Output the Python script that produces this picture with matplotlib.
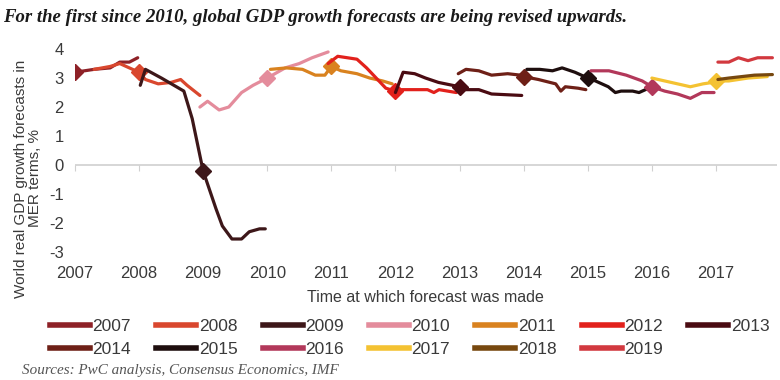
import matplotlib
matplotlib.use("Agg")
import matplotlib.pyplot as plt
from matplotlib.lines import Line2D
import numpy as np

# ---- data (forecast date in decimal years, forecast value %) ----
years = [2007, 2008, 2009, 2010, 2011, 2012, 2013, 2014, 2015, 2016, 2017, 2018, 2019]

x2007 = [2007.0, 2007.3, 2007.55, 2007.7, 2007.85, 2007.98]
y2007 = [3.2, 3.3, 3.35, 3.55, 3.55, 3.7]

x2008 = [2007.3, 2007.55, 2007.7, 2007.85, 2008.0, 2008.1, 2008.3, 2008.5, 2008.65, 2008.75, 2008.95]
y2008 = [3.3, 3.4, 3.5, 3.35, 3.2, 2.95, 2.8, 2.85, 2.95, 2.75, 2.4]

x2009 = [2008.02, 2008.1, 2008.35, 2008.7, 2008.83, 2009.0, 2009.2, 2009.3, 2009.45, 2009.6, 2009.72, 2009.88, 2009.97]
y2009 = [2.75, 3.3, 3.0, 2.55, 1.6, -0.2, -1.5, -2.1, -2.55, -2.55, -2.3, -2.2, -2.2]

x2010 = [2008.95, 2009.07, 2009.25, 2009.4, 2009.6, 2009.78, 2010.0, 2010.28, 2010.5, 2010.7, 2010.95]
y2010 = [2.0, 2.2, 1.9, 2.0, 2.5, 2.75, 3.0, 3.35, 3.5, 3.7, 3.9]

x2011 = [2010.05, 2010.3, 2010.55, 2010.75, 2010.9, 2011.0, 2011.15, 2011.4, 2011.6, 2011.8, 2011.95]
y2011 = [3.3, 3.35, 3.3, 3.1, 3.1, 3.4, 3.25, 3.15, 3.0, 2.9, 2.8]

x2012 = [2010.95, 2011.1, 2011.4, 2011.55, 2011.7, 2011.85, 2012.0, 2012.1, 2012.5, 2012.6, 2012.68, 2012.95]
y2012 = [3.5, 3.75, 3.65, 3.35, 3.0, 2.65, 2.55, 2.6, 2.6, 2.5, 2.6, 2.5]

x2013 = [2012.0, 2012.12, 2012.3, 2012.47, 2012.67, 2013.0, 2013.1, 2013.3, 2013.5, 2013.97]
y2013 = [2.5, 3.2, 3.15, 3.0, 2.85, 2.7, 2.6, 2.6, 2.45, 2.4]

x2014 = [2012.98, 2013.1, 2013.3, 2013.5, 2013.75, 2013.95, 2014.0, 2014.23, 2014.5, 2014.58, 2014.65, 2014.85, 2014.97]
y2014 = [3.15, 3.3, 3.25, 3.1, 3.15, 3.1, 3.05, 2.95, 2.8, 2.55, 2.7, 2.65, 2.6]

x2015 = [2014.05, 2014.25, 2014.45, 2014.6, 2014.8, 2015.0, 2015.12, 2015.32, 2015.43, 2015.52, 2015.7, 2015.8, 2015.9, 2016.0]
y2015 = [3.3, 3.3, 3.25, 3.35, 3.2, 3.0, 2.9, 2.7, 2.5, 2.55, 2.55, 2.5, 2.6, 2.7]

x2016 = [2015.05, 2015.33, 2015.6, 2015.85, 2016.0, 2016.2, 2016.4, 2016.6, 2016.78, 2016.97]
y2016 = [3.25, 3.25, 3.1, 2.9, 2.7, 2.55, 2.45, 2.3, 2.5, 2.5]

x2017 = [2016.0, 2016.2, 2016.4, 2016.6, 2016.8, 2016.95, 2017.0, 2017.2, 2017.5, 2017.8]
y2017 = [3.0, 2.9, 2.8, 2.7, 2.8, 2.85, 2.9, 2.9, 3.0, 3.05]

x2018 = [2017.03, 2017.2, 2017.4, 2017.6, 2017.88]
y2018 = [2.95, 3.0, 3.05, 3.1, 3.12]

x2019 = [2017.03, 2017.2, 2017.35, 2017.5, 2017.65, 2017.88]
y2019 = [3.55, 3.55, 3.7, 3.6, 3.7, 3.7]

xs = [x2007, x2008, x2009, x2010, x2011, x2012, x2013, x2014, x2015, x2016, x2017, x2018, x2019]
ys = [y2007, y2008, y2009, y2010, y2011, y2012, y2013, y2014, y2015, y2016, y2017, y2018, y2019]

colors = ["#8E2127", "#D9472E", "#3D1719", "#E48C9C", "#D9821F", "#E2211C", "#4A0B12",
          "#6E2017", "#1E0E0E", "#B2385A", "#F4C232", "#77480F", "#D2393F"]

xtick_years = list(range(2007, 2018))
yticks = [-3, -2, -1, 0, 1, 2, 3, 4]

# ---- figure ----
fig = plt.figure(figsize=(7.8, 3.8), dpi=100)
ax = fig.add_axes([0.096, 0.31, 0.9, 0.58])

sans = ["Liberation Sans", "DejaVu Sans"]
serif = ["Liberation Serif", "DejaVu Serif"]
txtc = "#3a3a3a"
ymin, ymax = -3.35, 4.25

for yr, xv, yv, c in zip(years, xs, ys, colors):
    xa = np.array(xv)
    idx = int(np.argmin(np.abs(xa - yr)))
    mk = [idx] if abs(xa[idx] - yr) < 0.06 else []
    ax.plot(xv, yv, color=c, lw=2.3, solid_joinstyle="round", solid_capstyle="round",
            marker="D", markevery=mk, markersize=8, label=str(yr))

ax.axhline(0, color="#d0d0d0", lw=1.2, zorder=0)
ax.set_xlim(2007, 2017.95)
ax.set_ylim(ymin, ymax)
ax.set_yticks(yticks)
ax.set_yticklabels([str(v) for v in yticks], family=sans, fontsize=12, color=txtc)
ax.set_xticks(xtick_years)
ax.set_xticklabels([str(v) for v in xtick_years], family=sans, fontsize=12, color=txtc)
ax.tick_params(axis="x", length=0, pad=3)
ax.tick_params(axis="y", length=0, pad=8)
for s in ax.spines.values():
    s.set_visible(False)

# tick marks on the zero line
sec = ax.secondary_xaxis((0 - ymin) / (ymax - ymin))
sec.xaxis.set_ticks_position("bottom")
sec.set_xticks(xtick_years, labels=[""] * len(xtick_years))
sec.tick_params(length=4, color="#d0d0d0", direction="out")
for s in sec.spines.values():
    s.set_visible(False)

ax.set_xlabel("Time at which forecast was made", family=sans, fontsize=11.5, color=txtc, labelpad=6)
ax.set_ylabel("World real GDP growth forecasts in\nMER terms, %", family=sans, fontsize=11,
              color=txtc, linespacing=1.0)
ax.yaxis.set_label_coords(-0.047, 0.38)

fig.text(0.004, 0.955, "For the first since 2010, global GDP growth forecasts are being revised upwards.",
         family=serif, style="italic", weight="bold", fontsize=13.5,
         color="#1a1a1a", va="center", ha="left")

fig.text(0.028, 0.026, "Sources: PwC analysis, Consensus Economics, IMF",
         family=serif, style="italic", fontsize=10.9,
         color="#555555", va="center", ha="left")

# legend filled row-wise: 2007..2013 on first row, 2014..2019 on second
labels = [str(y) for y in years]
order = []
for i in range(7):
    order.append(i)
    if i + 7 < len(years):
        order.append(i + 7)
lh = [Line2D([0], [0], color=colors[i], lw=4) for i in order]
ll = [labels[i] for i in order]
leg = fig.legend(lh, ll, ncol=7, loc="upper left", bbox_to_anchor=(0.064, 0.162),
                 frameon=False, handlelength=2.3, handletextpad=0.15, columnspacing=1.45,
                 labelspacing=0.5, borderaxespad=0, borderpad=0,
                 prop={"family": sans, "size": 12.5})
for t in leg.get_texts():
    t.set_color(txtc)

fig.savefig("out.png", dpi=100)
